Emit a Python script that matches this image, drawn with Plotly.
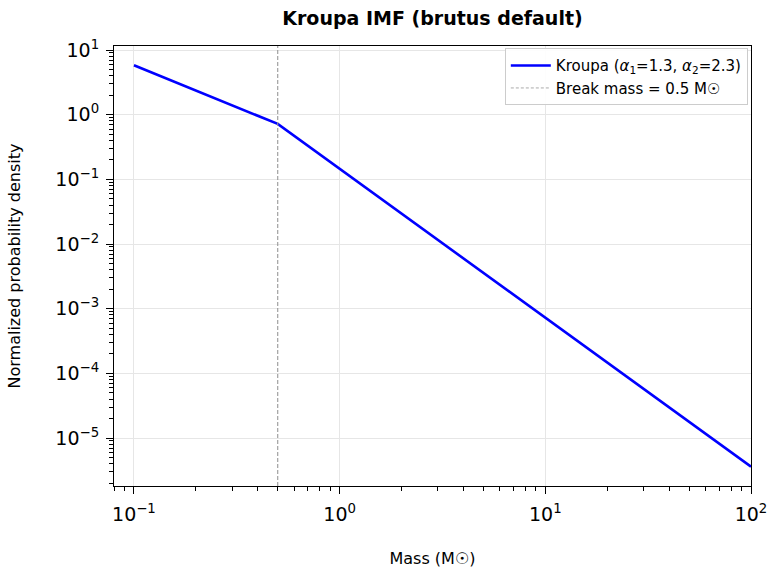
import numpy as np
import plotly.graph_objects as go

# Data
mass = [0.1, 0.5, 100.0]
density = [5.8, 0.72, 3.6e-6]
break_mass = 0.5

x_tickvals = [0.1, 1, 10, 100]
x_ticktext = ["10<sup>−1</sup>", "10<sup>0</sup>", "10<sup>1</sup>", "10<sup>2</sup>"]
y_tickvals = [10, 1, 0.1, 0.01, 1e-3, 1e-4, 1e-5]
y_ticktext = ["10<sup>1</sup>", "10<sup>0</sup>", "10<sup>−1</sup>", "10<sup>−2</sup>",
              "10<sup>−3</sup>", "10<sup>−4</sup>", "10<sup>−5</sup>"]

x_range = [-1.097, 2.0]
y_range = [-5.742, 1.062]

def minor_vals(lo, hi):
    vals = []
    for d in range(int(np.floor(lo)) - 1, int(np.ceil(hi)) + 1):
        for k in range(2, 10):
            v = k * 10.0 ** d
            if lo <= np.log10(v) <= hi:
                vals.append(v)
    return vals

FONT = "DejaVu Sans"

fig = go.Figure()
fig.add_trace(go.Scatter(
    x=mass, y=density, mode="lines",
    line=dict(color="#0000ff", width=2.6),
    name="Kroupa (<i>α</i><sub>1</sub>=1.3, <i>α</i><sub>2</sub>=2.3)",
))
fig.add_trace(go.Scatter(
    x=[None], y=[None], mode="lines",
    line=dict(color="#aaaaaa", width=1, dash="3px,2px"),
    name="Break mass = 0.5 M☉",
))
fig.add_vline(x=break_mass, line=dict(color="#999999", width=1.1, dash="4px,2px"))

axis_common = dict(
    type="log", showline=True, linecolor="black", linewidth=1.2, mirror=True,
    ticks="outside", ticklen=7, tickwidth=1.2, tickcolor="black",
    showgrid=True, gridcolor="#e6e6e6", gridwidth=1, zeroline=False,
    tickfont=dict(family=FONT, size=19, color="black"),
    automargin=False,
)

fig.update_xaxes(
    **axis_common, range=x_range, tickvals=x_tickvals, ticktext=x_ticktext,
    ticklabelstandoff=4,
    minor=dict(tickvals=minor_vals(*x_range), ticks="outside", ticklen=4,
               tickwidth=1, tickcolor="black", showgrid=False),
    title=dict(text="Mass (M☉)", font=dict(family=FONT, size=16, color="black"),
               standoff=28),
)
fig.update_yaxes(
    **axis_common, range=y_range, tickvals=y_tickvals, ticktext=y_ticktext,
    ticklabelstandoff=3,
    minor=dict(tickvals=minor_vals(*y_range), ticks="outside", ticklen=4,
               tickwidth=1, tickcolor="black", showgrid=False),
    title=dict(text="Normalized probability density",
               font=dict(family=FONT, size=16, color="black"), standoff=30),
)

fig.update_layout(
    width=777, height=578,
    margin=dict(l=114, r=26, t=46, b=92),
    paper_bgcolor="white", plot_bgcolor="white",
    title=dict(text="<b>Kroupa IMF (brutus default)</b>", x=0.5566, xanchor="center",
               y=0.968, yanchor="middle",
               font=dict(family=FONT, size=19, color="black")),
    legend=dict(x=0.995, xanchor="right", y=0.995, yanchor="top",
                bgcolor="rgba(255,255,255,0.9)", bordercolor="#cccccc", borderwidth=1,
                font=dict(family=FONT, size=15, color="black"),
                itemwidth=40, tracegroupgap=2),
    showlegend=True,
)

fig.write_html("out.html")
